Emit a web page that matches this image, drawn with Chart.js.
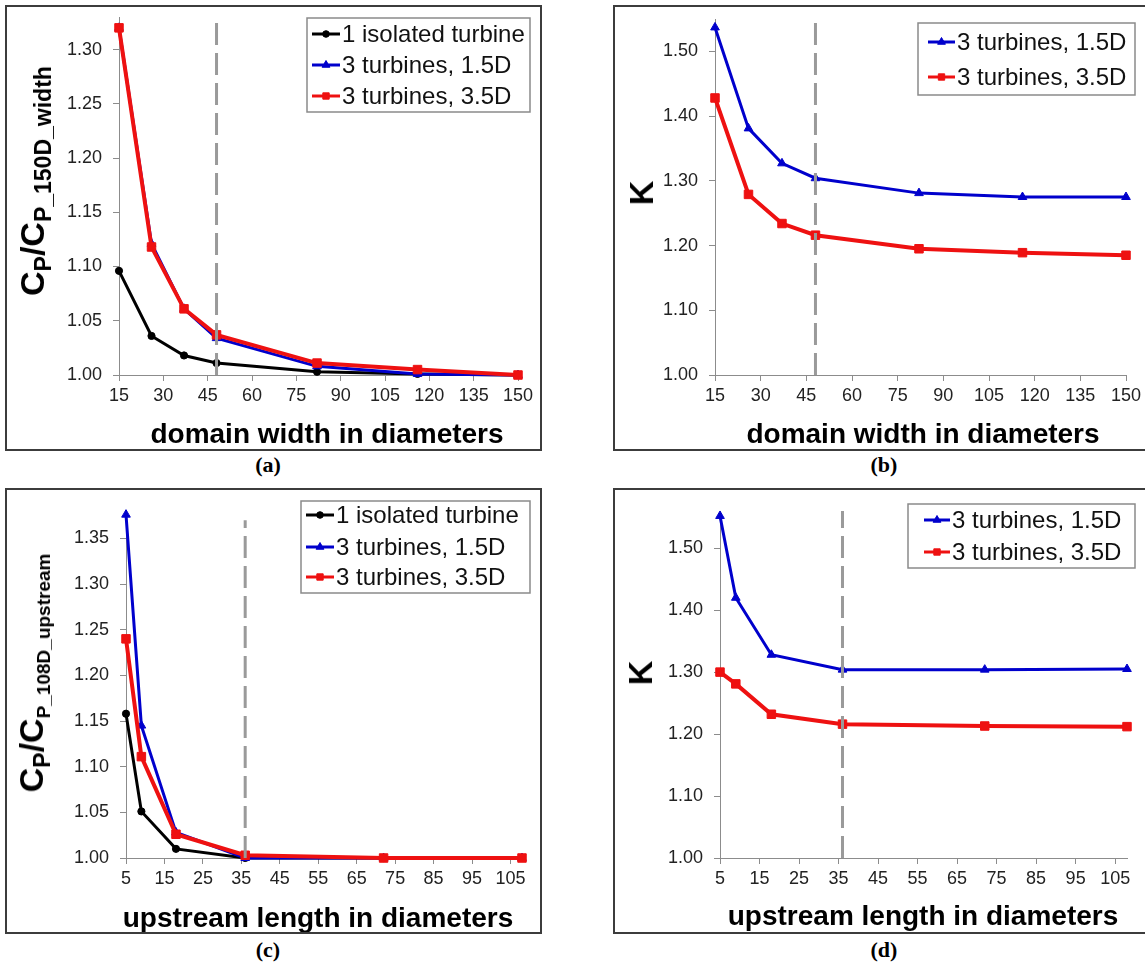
<!DOCTYPE html>
<html><head><meta charset="utf-8">
<script src="https://cdn.jsdelivr.net/npm/chart.js@4.4.1/dist/chart.umd.min.js"></script>
<style>
html,body{margin:0;padding:0;background:#fff;overflow:hidden;width:1145px;height:965px;}
.frame{position:absolute;box-sizing:border-box;border:2px solid #3c3c3c;width:537px;height:446px;}
.frame canvas{position:absolute;left:0;top:0;}
.cap{position:absolute;font-family:"Liberation Serif","Times New Roman",serif;font-weight:bold;font-size:22px;line-height:24px;width:60px;margin-left:-30px;text-align:center;color:#000;}
.ytitle{position:absolute;font-family:"Liberation Sans",Arial,sans-serif;font-weight:bold;font-size:34px;line-height:36px;height:36px;white-space:nowrap;color:#000;transform:translate(-50%,-50%) rotate(-90deg);}
.ytitle .sub{font-size:23px;position:relative;top:7px;}
.ytitle .sub2{font-size:19px;position:relative;top:7px;}
</style></head><body>
<div class="frame" style="left:5px;top:5px"><canvas id="ca" width="533" height="442"></canvas></div>
<div class="frame" style="left:613px;top:5px"><canvas id="cb" width="533" height="442"></canvas></div>
<div class="frame" style="left:5px;top:488px"><canvas id="cc" width="533" height="442"></canvas></div>
<div class="frame" style="left:613px;top:488px"><canvas id="cd" width="533" height="442"></canvas></div>
<div class="ytitle" style="left:32px;top:181px">C<span class="sub">P</span>/C<span class="sub">P_150D_width</span></div>
<div class="ytitle" style="left:641px;top:193px">K</div>
<div class="ytitle" style="left:31px;top:673px">C<span class="sub">P</span>/C<span class="sub2">P_108D_upstream</span></div>
<div class="ytitle" style="left:640px;top:673px">K</div>
<div class="cap" style="left:268px;top:453px">(a)</div>
<div class="cap" style="left:884px;top:453px">(b)</div>
<div class="cap" style="left:268px;top:938px">(c)</div>
<div class="cap" style="left:884px;top:938px">(d)</div>
<script>
// ---------- data ----------
const widthD = [15, 26, 37, 48, 82, 116, 150];
const a_isolated = [1.096, 1.036, 1.018, 1.011, 1.003, 1.001, 1.000];
const a_turb15 = [1.320, 1.121, 1.061, 1.034, 1.008, 1.001, 1.000];
const a_turb35 = [1.320, 1.118, 1.061, 1.037, 1.011, 1.005, 1.000];
const b_turb15 = [1.537, 1.381, 1.327, 1.304, 1.281, 1.275, 1.275];
const b_turb35 = [1.428, 1.279, 1.234, 1.216, 1.195, 1.189, 1.185];

const upstreamD = [5, 9, 18, 36, 72, 108];
const c_isolated = [1.158, 1.051, 1.010, 1.000, 1.000, 1.000];
const c_turb15 = [1.376, 1.145, 1.028, 1.000, 1.000, 1.000];
const c_turb35 = [1.240, 1.111, 1.026, 1.003, 1.000, 1.000];
const d_turb15 = [1.552, 1.420, 1.328, 1.304, 1.304, 1.305];
const d_turb35 = [1.300, 1.281, 1.232, 1.216, 1.213, 1.212];

const widthTicks = [15, 30, 45, 60, 75, 90, 105, 120, 135, 150];
const upstreamTicks = [5, 15, 25, 35, 45, 55, 65, 75, 85, 95, 105];
const ticksA = [1.00, 1.05, 1.10, 1.15, 1.20, 1.25, 1.30];
const ticksB = [1.00, 1.10, 1.20, 1.30, 1.40, 1.50];
const ticksC = [1.00, 1.05, 1.10, 1.15, 1.20, 1.25, 1.30, 1.35];
const ticksD = [1.00, 1.10, 1.20, 1.30, 1.40, 1.50];

const chosenWidth = 48;
const chosenUpstream = 36;

const labIso = '1 isolated turbine';
const lab15 = '3 turbines, 1.5D';
const lab35 = '3 turbines, 3.5D';

// ---------- styling ----------
const F = '"Liberation Sans", Arial, sans-serif';
Chart.defaults.font.family = F;
Chart.defaults.animation = false;

const styles = {
  iso: {borderColor:'#000000', backgroundColor:'#000000', pointBackgroundColor:'#000000', pointBorderColor:'#000000', borderWidth:3, pointStyle:'circle', pointRadius:3.6, order:3},
  t15: {borderColor:'#0000cc', backgroundColor:'#0000cc', pointBackgroundColor:'#0000cc', pointBorderColor:'#0000cc', borderWidth:3, pointStyle:'triangle', pointRadius:5, order:2},
  t35: {borderColor:'#ee1111', backgroundColor:'#ee1111', pointBackgroundColor:'#ee1111', pointBorderColor:'#ee1111', borderWidth:4, pointStyle:'rect', pointRadius:6, order:1}
};

function series(label, xs, ys, st) {
  return Object.assign({label, data: xs.map((x, i) => ({x, y: ys[i]})), showLine:true, tension:0, clip:false, pointBorderWidth:1, pointHoverRadius:0}, st);
}
function marker(x, y0, y1) {
  return {label:'', data:[{x, y:y0}, {x, y:y1}], borderColor:'#9a9a9a', borderWidth:3, borderDash:[22, 8], pointRadius:0, showLine:true, order:0, clip:false};
}

const deco = {
  id: 'deco',
  afterDraw(chart, args, o) {
    const ctx = chart.ctx;
    // x title
    ctx.save();
    ctx.fillStyle = '#000';
    ctx.font = `bold 28px ${F}`;
    ctx.textAlign = 'center';
    ctx.textBaseline = 'alphabetic';
    ctx.fillText(o.xTitle, o.xTitleX, o.xTitleY);
    ctx.restore();
    // legend
    const L = o.legend;
    ctx.save();
    ctx.fillStyle = '#fff';
    ctx.fillRect(L.x, L.y, L.w, L.h);
    ctx.strokeStyle = '#8a8a8a';
    ctx.lineWidth = 1.5;
    ctx.strokeRect(L.x, L.y, L.w, L.h);
    const dss = chart.data.datasets.filter(d => d.label);
    dss.forEach((ds, i) => {
      const ry = L.rows[i];
      ctx.beginPath();
      ctx.moveTo(L.l0, ry); ctx.lineTo(L.l1, ry);
      ctx.strokeStyle = ds.borderColor; ctx.lineWidth = 3; ctx.setLineDash([]);
      ctx.stroke();
      ctx.fillStyle = ds.pointBackgroundColor; ctx.strokeStyle = ds.pointBorderColor; ctx.lineWidth = 1;
      Chart.helpers.drawPoint(ctx, {pointStyle: ds.pointStyle, radius: ds.pointStyle === 'circle' ? 3.3 : 4.5, rotation: 0, borderWidth: 1}, (L.l0 + L.l1) / 2, ry);
      ctx.fillStyle = '#111';
      ctx.font = `24px ${F}`;
      ctx.textAlign = 'left';
      ctx.textBaseline = 'middle';
      ctx.fillText(ds.label, L.tx, ry + 1);
    });
    ctx.restore();
  }
};

function makePanel(id, p) {
  new Chart(document.getElementById(id), {
    type: 'line',
    data: {datasets: p.datasets},
    plugins: [deco],
    options: {
      responsive: false,
      animation: false,
      events: [],
      layout: {padding: {left: 0, top: p.padTop, right: p.padRight, bottom: 0}},
      plugins: {legend: {display: false}, tooltip: {enabled: false}, deco: p.deco},
      scales: {
        x: {
          type: 'linear', min: p.xMin, max: p.xMax,
          afterBuildTicks: s => { s.ticks = p.xTicks.map(v => ({value: v})); },
          afterFit: s => { s.height = p.xH; s.paddingLeft = 0; s.paddingRight = 0; },
          grid: {drawOnChartArea: false, drawTicks: true, tickLength: 6, color: '#8c8c8c', lineWidth: 1},
          border: {display: true, color: '#8c8c8c', width: 1},
          ticks: {color: '#222', font: {size: 18}, padding: 4, maxRotation: 0, autoSkip: false, callback: v => String(v)}
        },
        y: {
          type: 'linear', min: p.yMin, max: p.yMax,
          afterBuildTicks: s => { s.ticks = p.yTicks.map(v => ({value: v})); },
          afterFit: s => { s.width = p.yW; s.paddingTop = 0; s.paddingBottom = 0; },
          grid: {drawOnChartArea: false, drawTicks: true, tickLength: 6, color: '#8c8c8c', lineWidth: 1},
          border: {display: true, color: '#8c8c8c', width: 1},
          ticks: {color: '#222', font: {size: 18, lineHeight: 1}, padding: 11, autoSkip: false, callback: v => v.toFixed(2)}
        }
      }
    }
  });
}

makePanel('ca', {
  datasets: [series(labIso, widthD, a_isolated, styles.iso), series(lab15, widthD, a_turb15, styles.t15), series(lab35, widthD, a_turb35, styles.t35), marker(chosenWidth, 1.00, 1.33)],
  xMin: 15, xMax: 150, xTicks: widthTicks, yMin: 1.00, yMax: 1.33, yTicks: ticksA,
  yW: 112, xH: 74, padTop: 10, padRight: 22,
  deco: {xTitle: 'domain width in diameters', xTitleX: 320, xTitleY: 436,
         legend: {x: 300, y: 11, w: 223, h: 94, rows: [27, 58, 89], l0: 305, l1: 333, tx: 335}}
});
makePanel('cb', {
  datasets: [series(lab15, widthD, b_turb15, styles.t15), series(lab35, widthD, b_turb35, styles.t35), marker(chosenWidth, 1.00, 1.55)],
  xMin: 15, xMax: 150, xTicks: widthTicks, yMin: 1.00, yMax: 1.55, yTicks: ticksB,
  yW: 100, xH: 74, padTop: 12, padRight: 22,
  deco: {xTitle: 'domain width in diameters', xTitleX: 308, xTitleY: 436,
         legend: {x: 303, y: 16, w: 217, h: 72, rows: [35, 70], l0: 313, l1: 340, tx: 342}}
});
makePanel('cc', {
  datasets: [series(labIso, upstreamD, c_isolated, styles.iso), series(lab15, upstreamD, c_turb15, styles.t15), series(lab35, upstreamD, c_turb35, styles.t35), marker(chosenUpstream, 1.00, 1.37)],
  xMin: 5, xMax: 108, xTicks: upstreamTicks, yMin: 1.00, yMax: 1.38, yTicks: ticksC,
  yW: 119, xH: 74, padTop: 21, padRight: 18,
  deco: {xTitle: 'upstream length in diameters', xTitleX: 311, xTitleY: 437,
         legend: {x: 294, y: 11, w: 229, h: 92, rows: [25, 57, 87], l0: 299, l1: 327, tx: 329}}
});
makePanel('cd', {
  datasets: [series(lab15, upstreamD, d_turb15, styles.t15), series(lab35, upstreamD, d_turb35, styles.t35), marker(chosenUpstream, 1.00, 1.56)],
  xMin: 5, xMax: 108, xTicks: upstreamTicks, yMin: 1.00, yMax: 1.56, yTicks: ticksD,
  yW: 105, xH: 74, padTop: 21, padRight: 21,
  deco: {xTitle: 'upstream length in diameters', xTitleX: 308, xTitleY: 435,
         legend: {x: 293, y: 14, w: 227, h: 64, rows: [30, 62], l0: 309, l1: 335, tx: 337}}
});
</script>
</body></html>
